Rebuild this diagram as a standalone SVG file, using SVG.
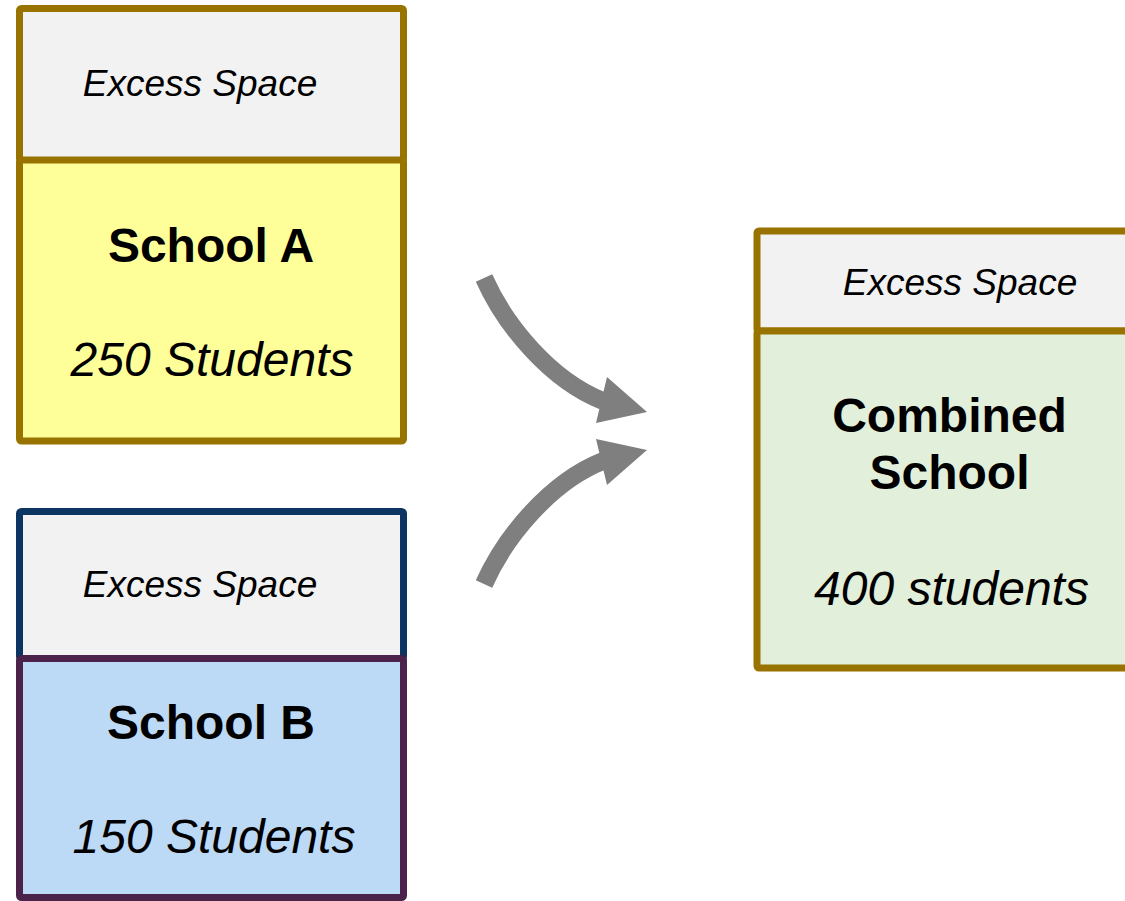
<svg xmlns="http://www.w3.org/2000/svg" width="1125" height="901" viewBox="0 0 1125 901">
  <style>
    .box { stroke-width: 7; stroke-linejoin: round; }
    .gold { stroke: #997300; }
    .navy { stroke: #0d3562; }
    .plum { stroke: #4b2249; }
    .excess { fill: #f2f2f2; }
    .t-small { font-family: "Liberation Sans", Arial, sans-serif; font-style: italic; font-size: 37px; fill: #000; text-anchor: middle; }
    .t-title { font-family: "Liberation Sans", Arial, sans-serif; font-weight: bold; font-size: 48px; fill: #000; text-anchor: middle; }
    .t-count { font-family: "Liberation Sans", Arial, sans-serif; font-style: italic; font-size: 48px; fill: #000; text-anchor: middle; }
    .arrow { fill: none; stroke: #7f7f7f; stroke-width: 18; }
    .head { fill: #7f7f7f; }
  </style>

  <!-- School A: excess space above the occupied part -->
  <g id="school-a">
    <rect class="box gold excess" x="19.5" y="8.5" width="384" height="152" rx="2"/>
    <rect class="box gold" x="19.5" y="160" width="384" height="281" rx="2" fill="#ffff99"/>
    <text class="t-small" x="200" y="96">Excess Space</text>
    <text class="t-title" x="211" y="262">School A</text>
    <text class="t-count" x="212" y="376">250 Students</text>
  </g>

  <!-- School B -->
  <g id="school-b">
    <rect class="box navy excess" x="19.5" y="511.5" width="384" height="147" rx="2"/>
    <rect class="box plum" x="19.5" y="658.5" width="384" height="239" rx="2" fill="#bcd9f5"/>
    <text class="t-small" x="200" y="597">Excess Space</text>
    <text class="t-title" x="211" y="739">School B</text>
    <text class="t-count" x="214" y="853">150 Students</text>
  </g>

  <!-- Combined school, running off the right edge -->
  <g id="combined-school">
    <rect class="box gold excess" x="757" y="231" width="380" height="100" rx="2"/>
    <rect class="box gold" x="757" y="331" width="380" height="337" rx="2" fill="#e2efda"/>
    <text class="t-small" x="960" y="295">Excess Space</text>
    <text class="t-title" x="949.5" y="432">Combined</text>
    <text class="t-title" x="949.5" y="489">School</text>
    <text class="t-count" x="951.5" y="605">400 students</text>
  </g>

  <!-- Curved merge arrows -->
  <g id="connectors">
    <path class="arrow" d="M484,278 C505,325 550,380 603,401"/>
    <polygon class="head" points="647,412 607,377 596,423"/>
    <path class="arrow" d="M484,584 C505,537 550,482 603,461"/>
    <polygon class="head" points="647,450 596,439 607,485"/>
  </g>
</svg>
